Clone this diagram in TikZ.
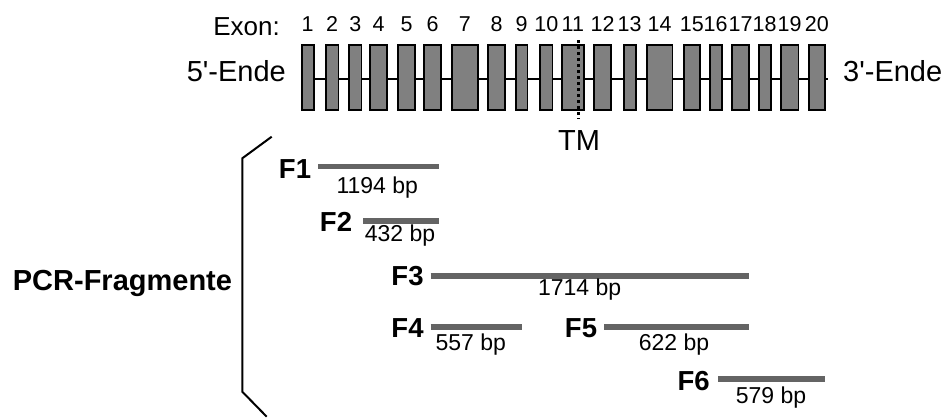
\documentclass[tikz,border=0pt]{standalone}
\usepackage{fontspec}
\setmainfont{Liberation Sans}
\begin{document}
\begin{tikzpicture}[x=1pt,y=-1pt,
  exonbox/.style={draw=black,line width=1.8pt,fill=exgray,inner sep=0pt,minimum height=64.5pt},
  intron/.style={draw=black,line width=2pt},
  numlbl/.style={font=\fontsize{21.5}{24}\selectfont,anchor=base,inner sep=0pt},
  biglbl/.style={font=\fontsize{29}{32}\selectfont,inner sep=0pt},
  flbl/.style={font=\bfseries\fontsize{27.5}{30}\selectfont,anchor=base,inner sep=0pt},
  bplbl/.style={font=\fontsize{23}{26}\selectfont,anchor=base,inner sep=0pt},
  fbar/.style={draw=bargray,line width=5.5pt},
  bracket/.style={draw=black,line width=2pt}]
\definecolor{exgray}{HTML}{808080}
\definecolor{bargray}{HTML}{646464}
\useasboundingbox (0,0) rectangle (946,418);
% exon boxes
\foreach \i/\l/\r in {1/300.7/314.5,2/325/339.3,3/348.3/362.3,4/369.3/387.7,5/397.3/415.7,
  6/423.3/441.7,7/450.7/479,8/487.3/506,9/515/528.3,10/539.3/553.3,11/560.7/585,
  12/593.3/611.7,13/622.7/636.7,14/646/673.3,15/682.7/701.2,16/708.7/722.7,
  17/731/750,18/757.7/771.7,19/780/799.3,20/807.7/826}{
  \pgfmathsetmacro{\w}{\r-\l-1.8}
  \pgfmathsetmacro{\c}{(\r+\l)/2}
  \node[exonbox,minimum width=\w pt] (e\i) at (\c,77.5) {};
  \node[numlbl] (n\i) at (\c,31.7) {\i};
}
\foreach \a/\b in {1/2,2/3,3/4,4/5,5/6,6/7,7/8,8/9,9/10,10/11,11/12,12/13,13/14,14/15,15/16,16/17,17/18,18/19,19/20}{
  \draw[intron] (e\a.east |- 0,79.3) -- (e\b.west |- 0,79.3);
}
\coordinate (ie) at (828,79.3);
\draw[intron] (e20.east |- ie) -- (ie);
% labels
\node[font=\fontsize{26}{30}\selectfont,anchor=base east,inner sep=0pt] (exon) at (280,35) {Exon:};
\node[biglbl,anchor=base east] (five) at (286,81.7) {5\textquotesingle-Ende};
\node[biglbl,anchor=base west] (three) at (843,81.7) {3\textquotesingle-Ende};
% TM dotted line
\coordinate (tmtop) at (578.3,40);
\coordinate (tmbot) at (578.3,119);
\draw[line width=2.6pt,dash pattern=on 3pt off 3pt] (tmtop) -- (tmbot);
\node[biglbl,anchor=base] (tm) at (579,150) {TM};
% bracket
\coordinate (b1) at (271.7,136.7);
\coordinate (b2) at (242.3,158.3);
\coordinate (b3) at (242.3,391.7);
\coordinate (b4) at (266.7,416.7);
\draw[bracket] (b1) -- (b2) -- (b3) -- (b4);
\node[font=\bfseries\fontsize{29}{32}\selectfont,anchor=base west,inner sep=0pt] (pcr) at (12.7,290) {PCR-Fragmente};
% fragments
\node[flbl] (f1) at (295,178.3) {F1};
\node[flbl] (f2) at (336,231.7) {F2};
\node[flbl] (f3) at (407.5,285) {F3};
\node[flbl] (f4) at (407.5,337.3) {F4};
\node[flbl] (f5) at (581,337.3) {F5};
\node[flbl] (f6) at (693.7,390) {F6};
\coordinate (f1a) at (318.3,166.6); \coordinate (f1b) at (439,166.6);
\coordinate (f2a) at (363.3,221.2); \coordinate (f2b) at (439,221.2);
\coordinate (f3a) at (430.7,275.8); \coordinate (f3b) at (749,275.8);
\coordinate (f4a) at (430.7,327);   \coordinate (f4b) at (522.3,327);
\coordinate (f5a) at (604,327);     \coordinate (f5b) at (749,327);
\coordinate (f6a) at (718.3,378.8); \coordinate (f6b) at (825,378.8);
\foreach \k in {1,...,6}{\draw[fbar] (f\k a) -- (f\k b);}
\node[bplbl] (bp1) at (377.3,193.3) {1194 bp};
\node[bplbl] (bp2) at (400,241.7) {432 bp};
\node[bplbl] (bp3) at (579.7,295) {1714 bp};
\node[bplbl] (bp4) at (470.8,350) {557 bp};
\node[bplbl] (bp5) at (674,350) {622 bp};
\node[bplbl] (bp6) at (771,403.3) {579 bp};
\end{tikzpicture}
\end{document}
